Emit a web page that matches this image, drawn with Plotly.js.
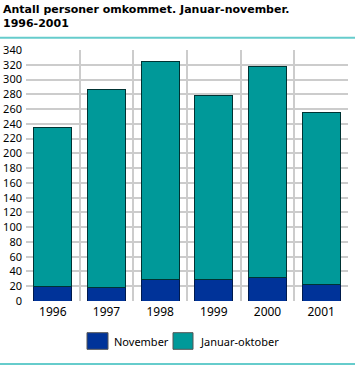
<!DOCTYPE html>
<html>
<head>
<meta charset="utf-8">
<script src="https://cdn.plot.ly/plotly-3.0.1.min.js"></script>
<style>html,body{margin:0;padding:0;background:#fff;}#chart{width:355px;height:366px;}</style>
</head>
<body>
<div id="chart"></div>
<script>
var years = ["1996", "1997", "1998", "1999", "2000", "2001"];
var november = [20, 18, 29, 29, 32, 22];
var januarOktober = [215, 269, 296, 250, 286, 234];
var seriesNames = ["November", "Januar-oktober"];
var yTicks = [0, 20, 40, 60, 80, 100, 120, 140, 160, 180, 200, 220, 240, 260, 280, 300, 320, 340];
var titleLines = ["Antall personer omkommet. Januar-november.", "1996-2001"];

var FONT = "Noto Sans, Liberation Sans, sans-serif";
var TFONT = "DejaVu Sans, Noto Sans, sans-serif";
var traces = [
  {type: "bar", x: years, y: november, name: seriesNames[0], width: 0.71,
   marker: {color: "#003399", line: {color: "#001a4d", width: 1}}, showlegend: false},
  {type: "bar", x: years, y: januarOktober, name: seriesNames[1], width: 0.71,
   marker: {color: "#009999", line: {color: "#003333", width: 1}}, showlegend: false}
];
function px2x(p){ return (p - 26) / 322; }
function px2y(p){ return (301 - p) / 251; }
var layout = {
  width: 355, height: 366,
  margin: {l: 26, r: 7, t: 50, b: 65, pad: 0},
  barmode: "stack",
  paper_bgcolor: "#fff", plot_bgcolor: "#fff",
  font: {family: FONT, size: 11, color: "#000"},
  xaxis: {type: "category", tickson: "boundaries", showgrid: true, gridcolor: "#cccccc", gridwidth: 2,
          ticks: "", showline: false, zeroline: false, tickfont: {size: 12}, ticklabelstandoff: 2},
  yaxis: {range: [0, 340], tickvals: yTicks, showgrid: true, gridcolor: "#cccccc", gridwidth: 2,
          ticks: "", showline: false, zeroline: false, tickfont: {size: 11}, ticklabelstandoff: 3},
  shapes: [
    {type: "line", xref: "paper", yref: "paper", x0: px2x(0), x1: px2x(355), y0: px2y(37.7), y1: px2y(37.7),
     line: {color: "#66cccc", width: 2}},
    {type: "line", xref: "paper", yref: "paper", x0: px2x(0), x1: px2x(355), y0: px2y(364), y1: px2y(364),
     line: {color: "#66cccc", width: 2}},
    {type: "rect", xref: "paper", yref: "paper", x0: px2x(87), x1: px2x(108), y0: px2y(349.3), y1: px2y(332.7),
     fillcolor: "#003399", line: {color: "#555555", width: 1}},
    {type: "rect", xref: "paper", yref: "paper", x0: px2x(173), x1: px2x(193), y0: px2y(349.3), y1: px2y(332.7),
     fillcolor: "#009999", line: {color: "#555555", width: 1}}
  ],
  annotations: [
    {xref: "paper", yref: "paper", x: px2x(1), y: px2y(9.5), xanchor: "left", yanchor: "middle",
     text: "<b>" + titleLines[0] + "</b>", showarrow: false, font: {family: TFONT, size: 11}},
    {xref: "paper", yref: "paper", x: px2x(1), y: px2y(23.5), xanchor: "left", yanchor: "middle",
     text: "<b>" + titleLines[1] + "</b>", showarrow: false, font: {family: TFONT, size: 11}},
    {xref: "paper", yref: "paper", x: px2x(112), y: px2y(341), xanchor: "left", yanchor: "middle",
     text: seriesNames[0], showarrow: false, font: {size: 11}},
    {xref: "paper", yref: "paper", x: px2x(198), y: px2y(341), xanchor: "left", yanchor: "middle",
     text: seriesNames[1], showarrow: false, font: {size: 11}}
  ]
};
Plotly.newPlot("chart", traces, layout, {displayModeBar: false, staticPlot: true});
</script>
</body>
</html>
